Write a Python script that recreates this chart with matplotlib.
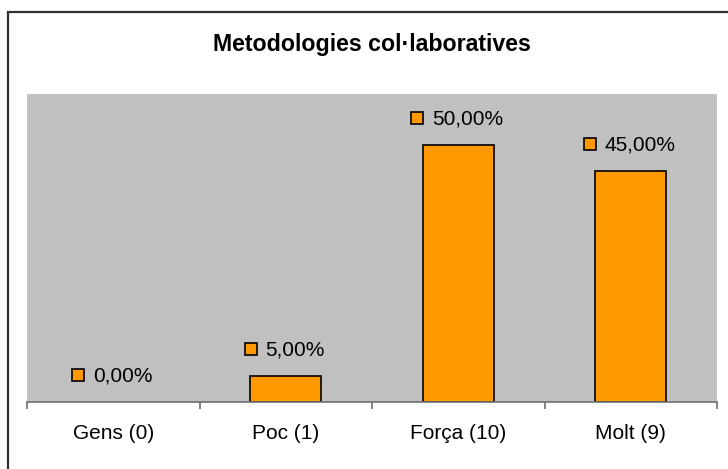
import matplotlib
matplotlib.use("Agg")
import matplotlib.pyplot as plt
import matplotlib.transforms as mtransforms
from matplotlib.patches import Rectangle

categories = ["Gens (0)", "Poc (1)", "Força (10)", "Molt (9)"]
values = [0.0, 5.0, 50.0, 45.0]
labels = ["0,00%", "5,00%", "50,00%", "45,00%"]
title = "Metodologies col·laboratives"

plt.rcParams['font.family'] = ['Liberation Sans', 'DejaVu Sans']

W, H = 728, 469
fig = plt.figure(figsize=(W / 100, H / 100), dpi=100)
fig.patch.set_facecolor("white")

# outer frame
fig.patches.append(Rectangle((8 / W, -0.1), 1.2, (H - 12) / H + 0.1,
                             transform=fig.transFigure, fill=False,
                             edgecolor="#303030", linewidth=1.6))

left, right, top, bottom = 27, 717, 94, 402
ax = fig.add_axes([left / W, (H - bottom) / H, (right - left) / W, (bottom - top) / H])
ax.set_facecolor("#C0C0C0")

x = list(range(len(categories)))
bars = ax.bar(x, values, width=0.41, color="#FF9900", edgecolor="black", linewidth=1.2, zorder=3)
for b, v in zip(bars, values):
    if v == 0:
        b.set_linewidth(0)
ax.set_xlim(-0.5, len(categories) - 0.5)
ax.set_ylim(0, 60)

for s in ["top", "left", "right"]:
    ax.spines[s].set_visible(False)
ax.spines["bottom"].set_color("#707070")
ax.spines["bottom"].set_linewidth(1.2)
ax.spines["bottom"].set_zorder(4)
ax.set_yticks([])
ax.set_xticks([i - 0.5 for i in range(len(categories) + 1)])
ax.set_xticklabels([])
ax.set_xticks(x, minor=True)
ax.set_xticklabels(categories, minor=True, fontsize=15)
ax.tick_params(axis="x", which="major", direction="out", length=5, color="#707070", width=1.2)
ax.tick_params(axis="x", which="minor", length=0, pad=16)

fig.text((left + right) / 2 / W, 1 - 45 / H, title, ha="center", va="center",
         fontsize=16.7, fontweight="bold")

texts = []
for xi, v, lab in zip(x, values, labels):
    tr = mtransforms.offset_copy(ax.transData, fig=fig, x=9.5, y=26, units="dots")
    t = ax.text(xi, v, lab, transform=tr, ha="center", va="center", fontsize=15, zorder=5)
    texts.append((xi, v, t))

fig.canvas.draw()
renderer = fig.canvas.get_renderer()
for xi, v, t in texts:
    bb = t.get_window_extent(renderer)
    px, py = ax.transData.transform((xi, v))
    sq_cx = bb.x0 - 9 - 6
    dx = sq_cx - px
    tr = mtransforms.offset_copy(ax.transData, fig=fig, x=dx, y=27, units="dots")
    ax.plot([xi], [v], marker="s", markersize=8.6, markerfacecolor="#FF9900",
            markeredgecolor="black", markeredgewidth=1.2, transform=tr,
            clip_on=False, zorder=5)

fig.savefig("out.png", dpi=100)
